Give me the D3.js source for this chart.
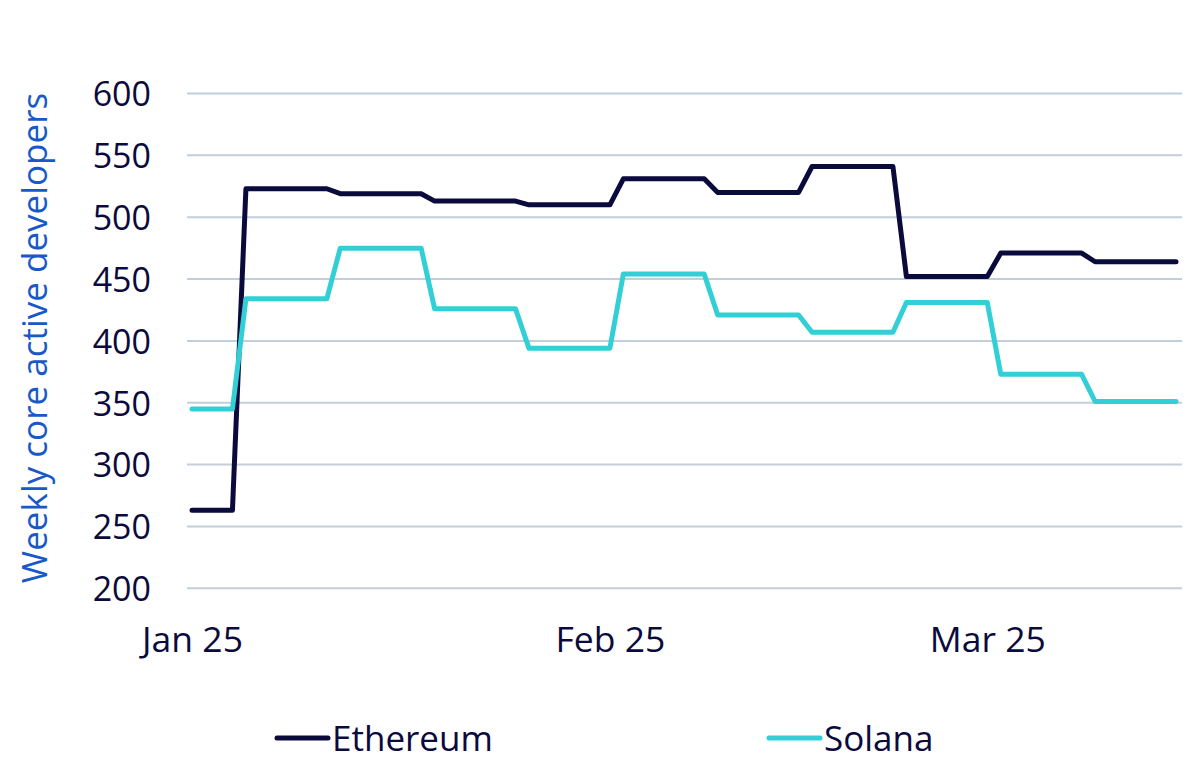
<!DOCTYPE html>
<html>
<head>
<meta charset="utf-8">
<script src="https://cdn.jsdelivr.net/npm/d3@7"></script>
<style>
  body { margin: 0; background: #fff; }
  text { font-family: "Open Sans", sans-serif; }
</style>
</head>
<body>
<div id="chart"></div>
<script>
// weekly values, each held flat from period start to period end
var periodStart = ["2025-01-01", "2025-01-05", "2025-01-12", "2025-01-19", "2025-01-26", "2025-02-02",
                   "2025-02-09", "2025-02-16", "2025-02-23", "2025-03-02", "2025-03-09"];
var periodEnd   = ["2025-01-04", "2025-01-11", "2025-01-18", "2025-01-25", "2025-02-01", "2025-02-08",
                   "2025-02-15", "2025-02-22", "2025-03-01", "2025-03-08", "2025-03-15"];
var ethereum = [263, 523, 519, 513, 510, 531, 520, 541, 452, 471, 464];
var solana   = [345, 434, 475, 426, 394, 454, 421, 407, 431, 373, 351];
var seriesNames = ["Ethereum", "Solana"];
var seriesColors = ["#0b0a3c", "#33cfd6"];
var yTicks = [200, 250, 300, 350, 400, 450, 500, 550, 600];
var xTickDates = ["2025-01-01", "2025-02-01", "2025-03-01"];

var svgWidth = 1200, svgHeight = 773;
var parseTime = d3.timeParse("%Y-%m-%d");

var svg = d3.select("#chart").append("svg")
  .attr("width", svgWidth)
  .attr("height", svgHeight);

var x = d3.scaleTime()
  .domain([parseTime(periodStart[0]), parseTime(periodEnd[periodEnd.length - 1])])
  .range([192, 1176]);

var y = d3.scaleLinear()
  .domain([200, 600])
  .range([588.3, 93.5]);

// gridlines
svg.append("g")
  .selectAll("line")
  .data(yTicks)
  .join("line")
  .attr("x1", 187)
  .attr("x2", 1182)
  .attr("y1", function(d) { return y(d); })
  .attr("y2", function(d) { return y(d); })
  .attr("stroke", "#c3cedb")
  .attr("stroke-width", 2);

// y axis labels
var yAxis = svg.append("g")
  .attr("transform", "translate(151,0)")
  .call(d3.axisLeft(y).tickValues(yTicks).tickSize(0).tickPadding(0));
yAxis.select(".domain").remove();
yAxis.selectAll("text")
  .attr("font-family", "Open Sans, sans-serif")
  .attr("font-size", 34)
  .attr("fill", "#0b0a3c")
  .attr("dy", "0.36em");

// x axis labels
var xAxis = svg.append("g")
  .attr("transform", "translate(0,618)")
  .call(d3.axisBottom(x)
    .tickValues(xTickDates.map(parseTime))
    .tickFormat(d3.timeFormat("%b %y"))
    .tickSize(0).tickPadding(0));
xAxis.select(".domain").remove();
xAxis.selectAll("text")
  .attr("font-family", "Open Sans, sans-serif")
  .attr("font-size", 35.5)
  .attr("fill", "#0b0a3c")
  .attr("dy", "0.95em");

// y axis title
svg.append("text")
  .attr("transform", "translate(47,338) rotate(-90)")
  .attr("text-anchor", "middle")
  .attr("font-size", 35)
  .attr("fill", "#1858c8")
  .text("Weekly core active developers");

// build vertex lists: start and end of each weekly period
function vertices(values) {
  var pts = [];
  values.forEach(function(v, i) {
    pts.push({ date: parseTime(periodStart[i]), value: v });
    pts.push({ date: parseTime(periodEnd[i]), value: v });
  });
  return pts;
}

var line = d3.line()
  .x(function(d) { return x(d.date); })
  .y(function(d) { return y(d.value); });

[ethereum, solana].forEach(function(values, i) {
  svg.append("path")
    .datum(vertices(values))
    .attr("fill", "none")
    .attr("stroke", seriesColors[i])
    .attr("stroke-width", 5)
    .attr("stroke-linejoin", "round")
    .attr("stroke-linecap", "round")
    .attr("d", line);
});

// legend
var legendX = [277, 769];
var legend = svg.append("g")
  .selectAll("g")
  .data(seriesNames)
  .join("g")
  .attr("transform", function(d, i) { return "translate(" + legendX[i] + ",738)"; });
legend.append("line")
  .attr("x1", 0).attr("x2", 51)
  .attr("stroke", function(d, i) { return seriesColors[i]; })
  .attr("stroke-width", 5)
  .attr("stroke-linecap", "round");
legend.append("text")
  .attr("x", 55)
  .attr("dy", "0.36em")
  .attr("font-size", 35)
  .attr("fill", "#0b0a3c")
  .text(function(d) { return d; });
</script>
</body>
</html>
